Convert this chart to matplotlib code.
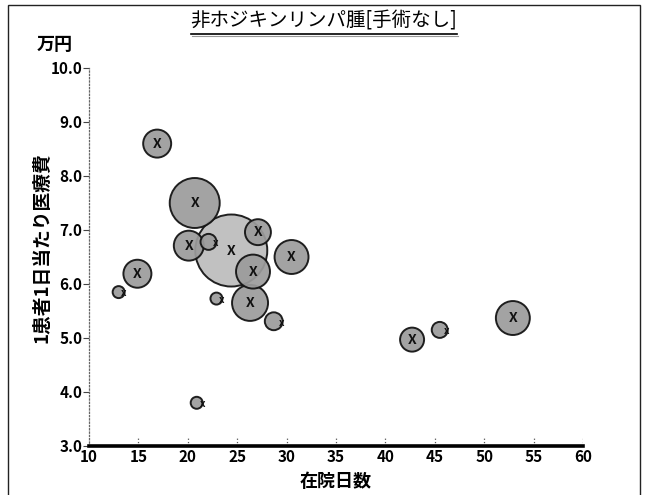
import numpy as np
import matplotlib
matplotlib.use("Agg")
import matplotlib.pyplot as plt
from matplotlib.lines import Line2D
from matplotlib.patches import Rectangle

plt.rcParams['font.family'] = ['Noto Sans CJK JP', 'DejaVu Sans']

# data
stay_days = [16.9, 20.7, 24.4, 20.1, 22.1, 27.1, 30.5, 26.6, 26.3, 14.9, 13.0, 22.9, 28.7, 20.9, 42.7, 45.5, 52.9]
cost_per_day = [8.60, 7.50, 6.62, 6.71, 6.78, 6.96, 6.50, 6.23, 5.65, 6.19, 5.85, 5.73, 5.31, 3.80, 4.97, 5.15, 5.37]
cases = [49, 156, 324, 56, 16, 42, 72, 72, 81, 49, 9, 9, 20, 9, 36, 16, 72]

title = "非ホジキンリンパ腫[手術なし]"
x_label = "在院日数"
y_label = "1患者1日当たり医療費"
unit_label = "万円"
x_ticks = [10, 15, 20, 25, 30, 35, 40, 45, 50, 55, 60]
y_ticks = [3.0, 4.0, 5.0, 6.0, 7.0, 8.0, 9.0, 10.0]

W, H = 648, 495
fig = plt.figure(figsize=(W / 100, H / 100), dpi=100)
ax = fig.add_axes([89 / W, 1 - 446 / H, 494 / W, 378 / H])

# big bubbles first so the small ones sit on top
order = np.argsort(cases)[::-1]
x = np.array(stay_days)[order]
y = np.array(cost_per_day)[order]
n = np.array(cases)[order]
face = ['#bdbdbd' if v > 200 else '#9c9c9c' for v in n]
ax.scatter(x, y, s=n * 8.3, c=face, edgecolors='#111111', linewidths=1.4, alpha=0.93, zorder=3)

for xi, yi, ni in zip(x, y, n):
    if ni >= 30:
        ax.text(xi, yi, "X", ha='center', va='center', fontsize=10, fontweight='bold',
                color='#111111', zorder=4)
    else:
        r = np.sqrt(ni * 8.3) / 2  # marker radius in points
        ax.annotate("x", (xi, yi), xytext=(r * 0.9, -1), textcoords='offset points',
                    ha='center', va='center', fontsize=7, fontweight='bold', color='#111111', zorder=4)

ax.set_xlim(10, 60)
ax.set_ylim(3, 10)
ax.set_xticks(x_ticks)
ax.set_yticks(y_ticks)
ax.set_yticklabels(["%.1f" % v for v in y_ticks], fontsize=11, fontweight='bold')
ax.set_xticklabels([str(v) for v in x_ticks], fontsize=11, fontweight='bold')
ax.tick_params(axis='y', direction='out', length=4, width=0.8, color='#444444', pad=1)
ax.tick_params(axis='x', length=0, pad=2)

# dotted tick marks above the x axis
ax.vlines(x_ticks[1:], 3.0, 3.15, colors='#555555', linestyles=':', linewidth=0.9)

for side in ['top', 'right']:
    ax.spines[side].set_visible(False)
ax.spines['left'].set_linestyle(':')
ax.spines['left'].set_color('#666666')
ax.spines['left'].set_linewidth(0.9)
ax.spines['bottom'].set_linewidth(2.6)
ax.spines['bottom'].set_color('black')

ax.set_xlabel(x_label, fontsize=13, fontweight='bold', labelpad=5)
ax.set_ylabel(y_label, fontsize=13.5, fontweight='bold')
ax.yaxis.set_label_coords(-0.075, 0.524)

fig.text(37 / W, 1 - 45 / H, unit_label, fontsize=13, fontweight='bold', va='center', ha='left')
t = fig.text(324 / W, 1 - 21 / H, title, fontsize=14, va='center', ha='center')

# underline for the title
fig.canvas.draw()
bb = t.get_window_extent().transformed(fig.transFigure.inverted())
uy = bb.y0 - 2 / H
fig.add_artist(Line2D([bb.x0, bb.x1], [uy, uy], transform=fig.transFigure, color='black', lw=1.2))
fig.add_artist(Line2D([bb.x0 + 1 / W, bb.x1 + 1 / W], [uy - 2 / H, uy - 2 / H], transform=fig.transFigure, color='#999999', lw=0.8))

# outer frame
fig.add_artist(Rectangle((8 / W, -0.05), 632 / W, 1.05 - 5 / H, transform=fig.transFigure,
                         fill=False, edgecolor='#222222', lw=1.0))

fig.savefig("out.png", dpi=100)
